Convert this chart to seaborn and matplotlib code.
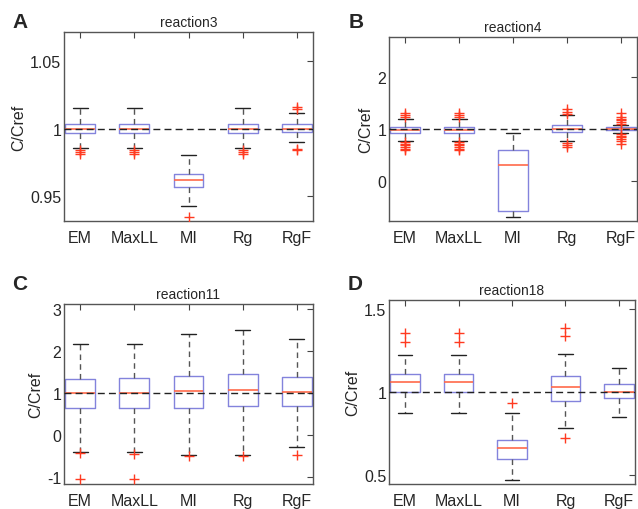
"""
Boxplots of C/Cref for four reactions, comparing five estimation methods.
"""

import numpy as np
import pandas as pd
import matplotlib
matplotlib.use("Agg")
import matplotlib.pyplot as plt
from matplotlib.ticker import FormatStrFormatter
import seaborn as sns

METHODS = ["EM", "MaxLL", "MI", "Rg", "RgF"]

# five-number summaries per method: whisker low, q1, median, q3, whisker high
R3_STATS = [
    [0.9856, 0.9963, 1.000, 1.0037, 1.0155],
    [0.9856, 0.9963, 1.000, 1.0037, 1.0155],
    [0.9423, 0.9565, 0.9614, 0.9664, 0.980],
    [0.9856, 0.9963, 1.000, 1.0037, 1.0155],
    [0.990, 0.9975, 1.000, 1.0032, 1.0117],
]
R3_OUT = [
    [0.984, 0.9825, 0.981],
    [0.984, 0.9825, 0.981],
    [0.934],
    [0.984, 0.9825, 0.981],
    [1.016, 1.0145, 0.985, 0.984],
]

R4_STATS = [
    [0.765, 0.92, 0.98, 1.03, 1.18],
    [0.765, 0.92, 0.98, 1.03, 1.18],
    [-0.69, -0.58, 0.30, 0.585, 0.92],
    [0.76, 0.936, 1.00, 1.076, 1.255],
    [0.92, 0.97, 1.00, 1.03, 1.08],
]
R4_OUT = [
    [1.22, 1.26, 1.30, 0.74, 0.71, 0.68, 0.65, 0.62, 0.59],
    [1.22, 1.26, 1.30, 0.74, 0.71, 0.68, 0.65, 0.62, 0.59],
    [],
    [1.28, 1.33, 1.38, 0.72, 0.68, 0.65],
    [1.10, 1.13, 1.16, 1.19, 1.22, 1.30, 0.90, 0.87, 0.84, 0.80, 0.76, 0.70],
]

R11_STATS = [
    [-0.40, 0.65, 1.015, 1.34, 2.16],
    [-0.40, 0.65, 1.01, 1.36, 2.17],
    [-0.46, 0.65, 1.05, 1.40, 2.41],
    [-0.46, 0.69, 1.07, 1.46, 2.50],
    [-0.28, 0.69, 1.02, 1.39, 2.28],
]
R11_OUT = [
    [-0.42, -1.05],
    [-0.45, -1.05],
    [-0.50],
    [-0.50],
    [-0.48],
]

R18_STATS = [
    [0.872, 1.00, 1.062, 1.106, 1.222],
    [0.872, 1.00, 1.062, 1.106, 1.222],
    [0.472, 0.596, 0.66, 0.712, 0.872],
    [0.782, 0.946, 1.032, 1.096, 1.23],
    [0.846, 0.962, 1.00, 1.046, 1.146],
]
R18_OUT = [
    [1.356, 1.30],
    [1.356, 1.30],
    [0.93],
    [1.382, 1.336, 0.722],
    [],
]

PANELS = [
    ("A", "reaction3", R3_STATS, R3_OUT, (0.931, 1.072), [0.95, 1, 1.05]),
    ("B", "reaction4", R4_STATS, R4_OUT, (-0.77, 2.76), [0, 1, 2]),
    ("C", "reaction11", R11_STATS, R11_OUT, (-1.16, 3.12), [-1, 0, 1, 2, 3]),
    ("D", "reaction18", R18_STATS, R18_OUT, (0.446, 1.552), [0.5, 1, 1.5]),
]

# axes boxes in pixels: left, right, top, bottom
BOXES = [(64, 313, 33, 222), (389, 637, 38, 222),
         (64, 313, 305, 485), (389, 635, 301, 485)]
# panel letter positions in pixels (left, centre y)
LETTER_POS = [(12, 22), (349, 22), (12, 284), (348, 284)]

BOX_BLUE = "#8383dc"
MED_RED = "#ff6a4a"
OUT_RED = "#ff3a20"

sns.set_style("white")
plt.rcParams["font.family"] = ["Liberation Sans", "DejaVu Sans"]

W, H = 638, 510
fig = plt.figure(figsize=(W / 100, H / 100), dpi=100)

for (letter, title, stats, outs, ylim, yticks), (l, r, t, b), (lx, ly) in zip(
        PANELS, BOXES, LETTER_POS):
    ax = fig.add_axes([l / W, (H - b) / H, (r - l) / W, (b - t) / H])

    box_df = pd.DataFrame(
        [(m, v) for m, s in zip(METHODS, stats) for v in s],
        columns=["method", "value"],
    )
    out_df = pd.DataFrame(
        [(m, v) for m, o in zip(METHODS, outs) for v in o],
        columns=["method", "value"],
    )

    sns.boxplot(
        data=box_df, x="method", y="value", order=METHODS, ax=ax,
        whis=(0, 100), showfliers=False, fill=False, width=0.55,
        boxprops=dict(color=BOX_BLUE, linewidth=1.0),
        medianprops=dict(color=MED_RED, linewidth=1.2),
        whiskerprops=dict(color="#555555", linestyle=(0, (4, 3)), linewidth=1.0),
        capprops=dict(color="#222222", linewidth=1.0),
    )
    if len(out_df):
        sns.stripplot(
            data=out_df, x="method", y="value", order=METHODS, ax=ax,
            jitter=False, marker="+", color=OUT_RED, size=7, linewidth=1.0,
        )

    ax.axhline(1, color="#222222", linestyle=(0, (5, 3)), linewidth=1.0, zorder=5)

    ax.set_xlim(-0.3, 4.3)
    ax.set_ylim(*ylim)
    ax.set_yticks(yticks)
    ax.yaxis.set_major_formatter(FormatStrFormatter("%g"))
    ax.set_xlabel("")
    ax.set_ylabel("C/Cref", fontsize=11.5, labelpad=3)
    ax.set_title(title, fontsize=10, pad=4)
    ax.tick_params(direction="in", top=True, right=True, length=4,
                   labelsize=11.5, color="#444444")
    ax.tick_params(axis="y", pad=2)
    ax.tick_params(axis="x", pad=6.5)
    for sp in ax.spines.values():
        sp.set_color("#555555")
        sp.set_linewidth(1.0)

    fig.text(lx / W, 1 - ly / H, letter, fontsize=15,
             fontweight="bold", va="center", ha="left")

fig.savefig("out.png", dpi=100)
